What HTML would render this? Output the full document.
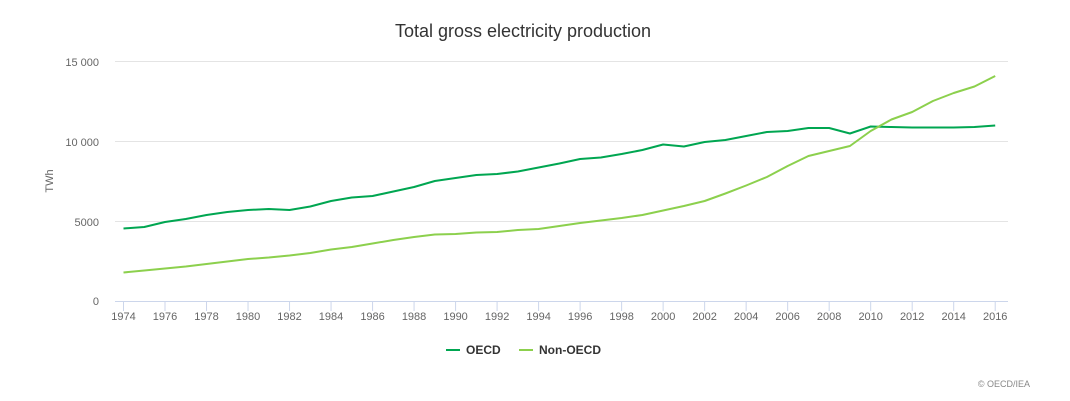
<!DOCTYPE html>
<html><head><meta charset="utf-8"><style>
body{margin:0;background:#fff;}
svg{display:block;font-family:"Liberation Sans","DejaVu Sans",sans-serif;}
</style></head><body>
<svg width="1070" height="401" viewBox="0 0 1070 401" xmlns="http://www.w3.org/2000/svg">
<text x="523" y="37" text-anchor="middle" font-size="18" fill="#333">Total gross electricity production</text>
<g stroke="#e4e4e4" stroke-width="1">
<line x1="115" x2="1008" y1="61.5" y2="61.5"/>
<line x1="115" x2="1008" y1="141.5" y2="141.5"/>
<line x1="115" x2="1008" y1="221.5" y2="221.5"/>
</g>
<line x1="115" x2="1008" y1="301.5" y2="301.5" stroke="#ccd6eb"/>
<g stroke="#ccd6eb" id="ticks"></g>
<g font-size="11" fill="#666" text-anchor="end">
<text x="99" y="66">15 000</text>
<text x="99" y="146">10 000</text>
<text x="99" y="226">5000</text>
<text x="99" y="305">0</text>
</g>
<text transform="translate(53,181) rotate(-90)" font-size="11" fill="#666" text-anchor="middle">TWh</text>
<g font-size="11" fill="#666" text-anchor="middle" id="xl"></g>
<polyline id="o" fill="none" stroke="#00a651" stroke-width="2" stroke-linejoin="round"/>
<polyline id="n" fill="none" stroke="#8cd04d" stroke-width="2" stroke-linejoin="round"/>
<line x1="446" x2="460" y1="350" y2="350" stroke="#00a651" stroke-width="2"/>
<text x="466" y="354" font-size="12" font-weight="bold" fill="#333">OECD</text>
<line x1="519" x2="533" y1="350" y2="350" stroke="#8cd04d" stroke-width="2"/>
<text x="539" y="354" font-size="12" font-weight="bold" fill="#333">Non-OECD</text>
<text x="1030" y="387" font-size="9" fill="#888" text-anchor="end">© OECD/IEA</text>
</svg>
<script>
var o=[228.5,227,222,219,215,212,210,209,210,206.5,201,197.5,196,191.5,187,181,178,175,174,171.5,167.5,163.5,159,157.5,154,150,144.5,146.5,142,140,136,132,131,128,128,133.5,126.5,127,127.5,127.5,127.5,127,125.5];
var n=[272.5,270.5,268.5,266.5,264,261.5,259,257.5,255.5,253,249.5,247,243.5,240,237,234.5,234,232.5,232,230,229,226,223,220.5,218,215,210.5,206,201,193.5,185.5,177,166,156,151,146,131,119.5,112,101,93,86.5,76];
function X(i){return 123.5+i*20.755;}
document.getElementById('o').setAttribute('points',o.map(function(v,i){return X(i)+','+v}).join(' '));
document.getElementById('n').setAttribute('points',n.map(function(v,i){return X(i)+','+v}).join(' '));
var t='',l='';
for(var i=0;i<=42;i+=2){var x=X(i);t+='<line x1="'+x+'" x2="'+x+'" y1="301" y2="311"/>';l+='<text x="'+x+'" y="320">'+(1974+i)+'</text>';}
document.getElementById('ticks').innerHTML=t;
document.getElementById('xl').innerHTML=l;
</script>
</body></html>
